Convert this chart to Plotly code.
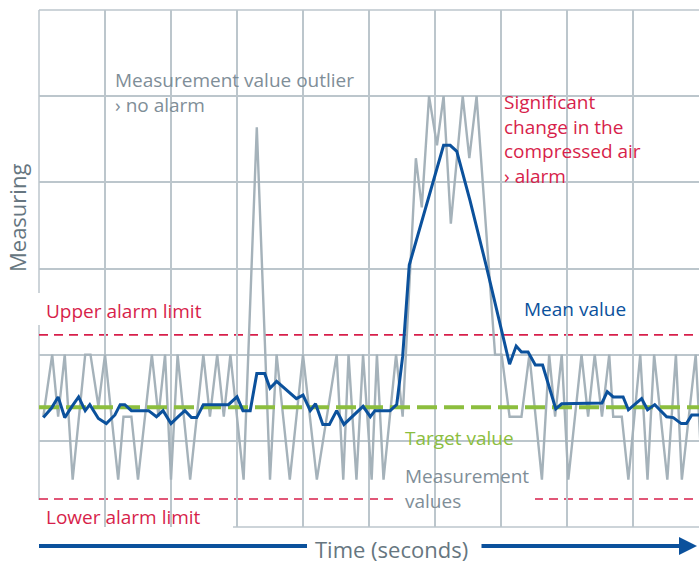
import plotly.graph_objects as go

# ---- data (x in time units, y in measuring units) ----
meas_x = [0.065, 0.20, 0.29, 0.39, 0.51, 0.70, 0.78, 0.90, 1.00, 1.20, 1.28, 1.40, 1.50,
          1.71, 1.81, 1.91, 2.00, 2.10, 2.29, 2.49, 2.59, 2.70, 2.80, 2.90, 3.10, 3.30,
          3.50, 3.60, 3.80, 4.00, 4.21, 4.51, 4.61, 4.69, 4.81, 4.91, 5.04, 5.12, 5.22,
          5.41, 5.51, 5.71, 5.80, 5.91, 6.03, 6.13, 6.24, 6.42, 6.52, 6.63, 6.91, 7.01,
          7.13, 7.31, 7.43, 7.62, 7.73, 7.82, 7.92, 8.02, 8.22, 8.32, 8.42, 8.53, 8.64,
          8.70, 8.83, 8.93, 9.11, 9.22, 9.32, 9.52, 9.65, 9.74, 9.95, 10.05]
meas_y = [1.28, 2.00, 1.28, 2.00, 0.55, 2.00, 2.00, 1.40, 2.00, 0.55, 1.28, 1.28, 0.55,
          2.00, 1.28, 2.00, 0.55, 2.00, 0.55, 2.00, 1.28, 2.00, 1.28, 2.00, 0.55, 4.64,
          0.55, 2.00, 0.55, 2.00, 0.55, 2.00, 0.55, 2.00, 0.55, 2.00, 0.55, 2.00, 0.55,
          2.00, 1.28, 4.28, 3.71, 5.00, 4.43, 5.00, 3.52, 5.00, 4.28, 5.00, 2.00, 2.00,
          1.28, 1.28, 2.00, 0.55, 2.00, 1.28, 2.00, 0.55, 2.00, 1.28, 2.00, 1.28, 2.00,
          1.28, 1.28, 0.55, 2.00, 0.55, 2.00, 0.55, 2.00, 0.55, 2.00, 0.55]

mean_x = [0.065, 0.19, 0.29, 0.39, 0.50, 0.60, 0.70, 0.77, 0.90, 1.02, 1.15, 1.23, 1.30,
          1.40, 1.66, 1.78, 1.88, 2.00, 2.11, 2.21, 2.31, 2.39, 2.49, 2.87, 3.00, 3.09,
          3.20, 3.30, 3.42, 3.50, 3.60, 3.90, 4.00, 4.11, 4.19, 4.30, 4.40, 4.51, 4.62,
          4.91, 5.02, 5.09, 5.32, 5.42, 5.51, 5.61, 6.13, 6.23, 6.33, 6.53, 6.78, 7.01,
          7.13, 7.23, 7.31, 7.41, 7.52, 7.63, 7.83, 7.92, 8.53, 8.61, 8.70, 8.85, 8.93,
          9.13, 9.22, 9.33, 9.51, 9.61, 9.73, 9.81, 9.89, 10.0]
mean_y = [1.27, 1.38, 1.51, 1.27, 1.40, 1.51, 1.35, 1.42, 1.26, 1.20, 1.30, 1.42, 1.42,
          1.35, 1.35, 1.28, 1.35, 1.20, 1.28, 1.35, 1.27, 1.27, 1.42, 1.42, 1.51, 1.35,
          1.35, 1.78, 1.78, 1.61, 1.69, 1.49, 1.53, 1.35, 1.43, 1.19, 1.19, 1.35, 1.19,
          1.40, 1.28, 1.35, 1.35, 1.42, 1.98, 3.04, 4.43, 4.43, 4.36, 3.79, 3.02, 2.29,
          1.89, 2.10, 2.03, 2.03, 1.88, 1.88, 1.37, 1.43, 1.44, 1.57, 1.51, 1.51, 1.36,
          1.49, 1.36, 1.42, 1.28, 1.27, 1.20, 1.20, 1.30, 1.30]

target_value = 1.39
upper_alarm = 2.23
lower_alarm = 0.325
x_span = [0, 10]
y_span = [0, 6]

# ---- colours ----
GRAY_LINE = "#a5b2ba"
GRID = "#bcc6cc"
BLUE = "#0b519c"
GREEN = "#8cbe3e"
RED = "#d71f4b"
GRAY_TXT = "#7f8e98"
AXIS_TXT = "#667680"
FONT = "Open Sans"

W, H = 699, 563
ML, MR, MT, MB = 39, 0, 10, 36
PW, PH = W - ML - MR, H - MT - MB


def px(xp):
    return (xp - ML) / PW


def py(yp):
    return (H - MB - yp) / PH


fig = go.Figure()
fig.add_trace(go.Scatter(x=meas_x, y=meas_y, mode="lines",
                         line=dict(color=GRAY_LINE, width=2.4), hoverinfo="skip"))
fig.add_trace(go.Scatter(x=x_span, y=[target_value, target_value], mode="lines",
                         line=dict(color=GREEN, width=4, dash="20px,7px"), hoverinfo="skip"))
fig.add_trace(go.Scatter(x=mean_x, y=mean_y, mode="lines",
                         line=dict(color=BLUE, width=3), hoverinfo="skip"))

shapes = []
# frame lines (left, top, bottom) of the chart grid
frame = dict(color=GRID, width=1.5)
shapes.append(dict(type="line", xref="paper", yref="paper", x0=0, x1=0, y0=0, y1=1,
                   line=frame, layer="between"))
shapes.append(dict(type="line", xref="paper", yref="paper", x0=0, x1=1, y0=1, y1=1,
                   line=frame, layer="between"))
shapes.append(dict(type="line", xref="paper", yref="paper", x0=0, x1=1, y0=0, y1=0,
                   line=frame, layer="between"))
for lvl in (upper_alarm, lower_alarm):
    shapes.append(dict(type="line", xref="paper", yref="y", x0=0, x1=1, y0=lvl, y1=lvl,
                       line=dict(color=RED, width=1.6, dash="9px,6px"), layer="between"))

# white label backgrounds (mask grid / alarm lines)
masks = [
    (108, 365, 63, 125),
    (497, 669, 85, 197),
    (36, 205, 293, 325),
    (520, 632, 288, 324),
    (400, 525, 423, 455),
    (398, 535, 455, 515),
    (36, 233, 500, 531),
]
for x0, x1, y0, y1 in masks:
    shapes.append(dict(type="rect", xref="paper", yref="paper",
                       x0=px(x0), x1=px(x1), y0=py(y1), y1=py(y0),
                       fillcolor="white", line=dict(width=0), layer="between"))

# bottom time arrow (left part)
shapes.append(dict(type="line", xref="paper", yref="paper",
                   x0=px(39), x1=px(307), y0=py(546), y1=py(546),
                   line=dict(color=BLUE, width=4)))

fig.update_layout(shapes=shapes)


def label(text, xl, baseline_mid, color, size=19):
    fig.add_annotation(text=text, xref="paper", yref="paper", borderpad=0,
                       x=px(xl), y=py(baseline_mid - 0.33 * size), xanchor="left",
                       yanchor="middle", align="left", showarrow=False,
                       font=dict(family=FONT, size=size, color=color))


label("Measurement value outlier<br>› no alarm", 114, 98.5, GRAY_TXT)
label("Significant<br>change in the<br>compressed air<br>› alarm", 503, 145.4, RED)
label("Upper alarm limit", 45, 317, RED)
label("Lower alarm limit", 45, 523, RED)
label("Mean value", 523, 315, BLUE)
label("Target value", 404, 444, GREEN)
label("Measurement<br>values", 404, 494.8, GRAY_TXT)

fig.add_annotation(text="Time (seconds)", xref="paper", yref="paper",
                   x=px(391), y=py(549), xanchor="center", yanchor="middle",
                   showarrow=False, font=dict(family=FONT, size=22, color=AXIS_TXT))
fig.add_annotation(text="Measuring", xref="paper", yref="paper",
                   x=px(17), y=py(218), xanchor="center", yanchor="middle", textangle=-90,
                   showarrow=False, font=dict(family=FONT, size=22, color=AXIS_TXT))
fig.add_annotation(text="", xref="paper", yref="paper", x=px(697), y=py(546),
                   ax=-217, ay=0, showarrow=True, arrowhead=2, arrowsize=0.9,
                   arrowwidth=4, arrowcolor=BLUE)

fig.update_xaxes(range=x_span, tick0=0, dtick=1, showgrid=True, gridcolor=GRID, gridwidth=1.5,
                 showticklabels=False, ticks="", zeroline=False, showline=False)
fig.update_yaxes(range=y_span, tick0=0, dtick=1, showgrid=True, gridcolor=GRID, gridwidth=1.5,
                 showticklabels=False, ticks="", zeroline=False, showline=False)
fig.update_layout(width=W, height=H, margin=dict(l=ML, r=MR, t=MT, b=MB),
                  paper_bgcolor="white", plot_bgcolor="white", showlegend=False)

fig.write_html("out.html", config={"displayModeBar": False},
               post_script="document.body.style.margin='0';document.body.style.padding='0';")
